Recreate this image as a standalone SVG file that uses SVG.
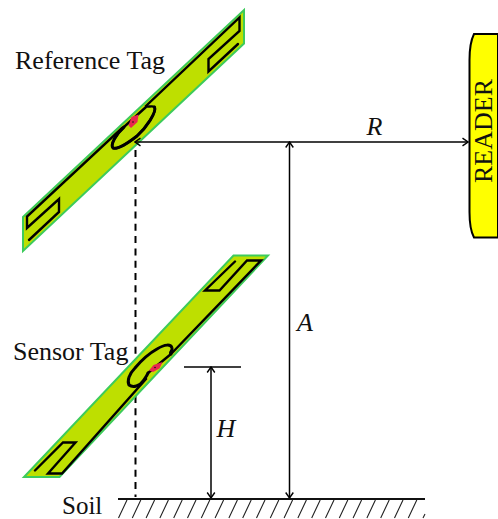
<svg xmlns="http://www.w3.org/2000/svg" width="498" height="519" viewBox="0 0 498 519">
<style>
.t{font-family:"Liberation Serif","Times New Roman",serif;font-size:26px;fill:#111}
.i{font-style:italic}
.board{fill:#BEDF00;stroke:#3DCB5B;stroke-width:2;stroke-linejoin:miter}
.trace{fill:none;stroke:#000;stroke-width:2.400;stroke-linejoin:miter;stroke-linecap:round}
.chip{fill:#E8264F}
.dim{fill:none;stroke:#000;stroke-width:1.500}
.arr{marker-start:url(#a);marker-end:url(#a)}
.hatch{stroke:#222;stroke-width:1.100;fill:none}
</style>
<defs>
<marker id="a" viewBox="-7 -5 8 10" markerUnits="userSpaceOnUse" markerWidth="8" markerHeight="10" refX="0" refY="0" orient="auto-start-reverse">
<path d="M-5.500 -3.800L0 0L-5.500 3.800" fill="none" stroke="#000" stroke-width="1.400"/>
</marker>
</defs>
<rect width="498" height="519" fill="#fff"/>
<g id="connectors-back">
<path d="M135.500 150V497" fill="none" stroke="#000" stroke-width="2" stroke-dasharray="7 5.300"/>
</g>
<g id="reference-tag">
<polygon class="board" points="244,10 244,43.500 23,251 23,217"/>
<path class="trace" d="M238 44L208.500 71.500V59L239.500 31V17.500L146 106C147 108 152 105 154.500 107C157 112 146 128 137 136C128 143 118 150 113 148C110 145 116 134 124 127M146 107L124 127L122 128L27 216.500V228L59 199V212L29 240"/>
<path class="trace" style="stroke-width:3" d="M154.500 107C157 112 146 128 137 136C128 143 118 150 113 148C110 145 116 134 124 127"/>
<polygon class="chip" points="128.500,125.500 131.500,117 138.500,114.500 137.500,122 131,128"/>
<circle cx="133" cy="122" r="0.800" fill="#111"/>
<text class="t" x="15" y="69">Reference Tag</text>
</g>
<g id="sensor-tag">
<polygon class="board" points="233.500,255.500 268,255.500 59.500,477 24,477"/>
<path class="trace" d="M235 261.500L205 290.500H219.500L247 260.500H261L171 354M171 354L148 373M146 379L62 473.500H48L75.500 442.500H63L35 470.500"/>
<path class="trace" style="stroke-width:3" d="M171 354C169 352 173 351 172 348C171 344 165 344 157 349C148 354 140 362 135 368C129 374 127 381 129 385C133 388 140 386 143 381C145 378 147 376 148 373"/>
<polygon class="chip" points="149,370.500 153.500,365 162.500,362 159.500,368.500 153,372"/>
<circle cx="155" cy="367.500" r="0.800" fill="#111"/>
<text class="t" x="13" y="359.500">Sensor Tag</text>
</g>
<g id="reader">
<path d="M498 34H474C471 40 469.500 48 469.500 60V212C469.500 224 471 232 474 237.500H498Z" fill="#FFFF00" stroke="#000" stroke-width="2"/>
<text class="t" transform="translate(492 183) rotate(-90)">READER</text>
</g>
<g id="connectors">
<line class="dim arr" x1="135" y1="142" x2="468" y2="142"/>
<line class="dim arr" x1="289.500" y1="142" x2="289.500" y2="498"/>
<line class="dim arr" x1="211" y1="367" x2="211" y2="498"/>
<line class="dim" x1="184" y1="367" x2="241" y2="367"/>
<text class="t i" x="366.500" y="135">R</text>
<text class="t i" x="297" y="331">A</text>
<text class="t i" x="216.500" y="437">H</text>
</g>
<g id="soil">
<line x1="118" y1="499" x2="425" y2="499" stroke="#111" stroke-width="2"/>
<path class="hatch" d="M118.500 518L127 500M132.300 518L140.800 500M146.100 518L154.600 500M159.900 518L168.400 500M173.700 518L182.200 500M187.500 518L196 500M201.300 518L209.800 500M215.100 518L223.600 500M228.900 518L237.400 500M242.700 518L251.200 500M256.500 518L265 500M270.300 518L278.800 500M284.100 518L292.600 500M297.900 518L306.400 500M311.700 518L320.200 500M325.500 518L334 500M339.300 518L347.800 500M353.100 518L361.600 500M366.900 518L375.400 500M380.700 518L389.200 500M394.500 518L403 500M408.300 518L416.800 500M423 518L425 514"/>
<text class="t" x="62" y="514" style="font-size:25px">Soil</text>
</g>
</svg>
